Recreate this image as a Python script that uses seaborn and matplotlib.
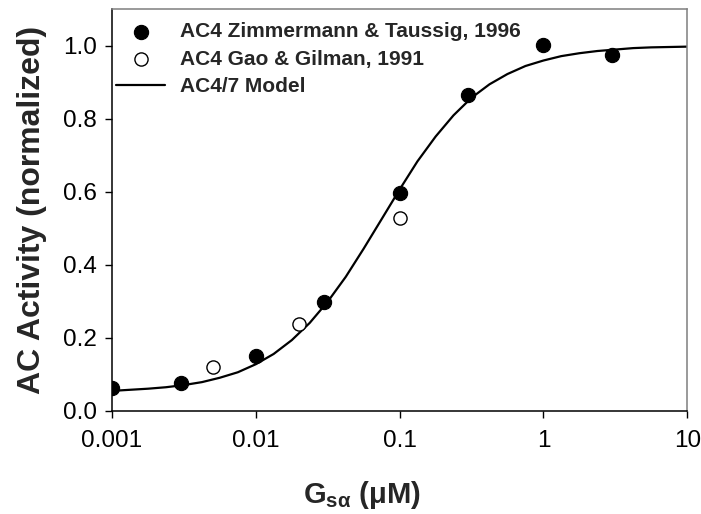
import matplotlib
matplotlib.use("Agg")
import matplotlib.pyplot as plt
import seaborn as sns
import pandas as pd

# Measured AC4 activity (normalized) versus Gs-alpha concentration (uM)
zt_conc = [0.001, 0.003, 0.01, 0.03, 0.1, 0.3, 1.0, 3.0]
zt_activity = [0.064, 0.077, 0.151, 0.299, 0.596, 0.865, 1.002, 0.975]

gg_conc = [0.005, 0.02, 0.1]
gg_activity = [0.121, 0.238, 0.527]

# AC4/7 model curve, sampled every eighth of a decade
model_conc = [0.001, 0.00133, 0.00178, 0.00237, 0.00316, 0.00422, 0.00562, 0.0075,
              0.01, 0.0133, 0.0178, 0.0237, 0.0316, 0.0422, 0.0562, 0.075,
              0.1, 0.133, 0.178, 0.237, 0.316, 0.422, 0.562, 0.75,
              1.0, 1.33, 1.78, 2.37, 3.16, 4.22, 5.62, 7.5, 10.0]
model_activity = [0.055, 0.058, 0.061, 0.065, 0.071, 0.079, 0.091, 0.106,
                  0.128, 0.156, 0.194, 0.241, 0.299, 0.367, 0.444, 0.525,
                  0.606, 0.683, 0.751, 0.809, 0.857, 0.894, 0.922, 0.944,
                  0.959, 0.971, 0.979, 0.985, 0.989, 0.993, 0.995, 0.996, 0.997]

series_labels = ["AC4 Zimmermann & Taussig, 1996",
                 "AC4 Gao & Gilman, 1991",
                 "AC4/7 Model"]
x_ticks = [0.001, 0.01, 0.1, 1, 10]
x_tick_labels = ["0.001", "0.01", "0.1", "1", "10"]
y_ticks = [0.0, 0.2, 0.4, 0.6, 0.8, 1.0]

zt = pd.DataFrame({"conc": zt_conc, "activity": zt_activity})
gg = pd.DataFrame({"conc": gg_conc, "activity": gg_activity})
model = pd.DataFrame({"conc": model_conc, "activity": model_activity})

sns.set_style("ticks")
plt.rcParams["font.family"] = ["Liberation Sans", "DejaVu Sans"]
plt.rcParams["mathtext.fontset"] = "custom"
plt.rcParams["mathtext.rm"] = "Liberation Sans"
plt.rcParams["mathtext.bf"] = "Liberation Sans:bold"
plt.rcParams["mathtext.it"] = "Liberation Sans:italic"

fig = plt.figure(figsize=(7.01, 5.14), dpi=100)
ax = fig.add_axes([0.1598, 0.2004, 0.8205, 0.7821])

sns.scatterplot(data=zt, x="conc", y="activity", ax=ax, s=105, color="black",
                edgecolor="black", linewidth=0.8, label=series_labels[0], zorder=3)
sns.scatterplot(data=gg, x="conc", y="activity", ax=ax, s=90, facecolor="white",
                edgecolor="black", linewidth=1.0, label=series_labels[1], zorder=3)
sns.lineplot(data=model, x="conc", y="activity", ax=ax, color="black",
             linewidth=1.6, label=series_labels[2], zorder=2)

ax.set_xscale("log")
ax.set_xlim(0.001, 10)
ax.set_ylim(0.0, 1.1)
ax.set_xticks(x_ticks)
ax.set_xticklabels(x_tick_labels)
ax.set_yticks(y_ticks)
ax.set_yticklabels([f"{v:.1f}" for v in y_ticks])
ax.minorticks_off()
ax.tick_params(axis="both", direction="out", length=5, width=1.0,
               labelsize=17.5, colors="black")
ax.tick_params(axis="x", pad=9)
ax.tick_params(axis="y", pad=6)

for side in ("left", "bottom"):
    ax.spines[side].set_color("black")
    ax.spines[side].set_linewidth(1.1)
for side in ("top", "right"):
    ax.spines[side].set_visible(True)
    ax.spines[side].set_color("#7f7f7f")
    ax.spines[side].set_linewidth(1.1)

ax.set_ylabel("AC Activity (normalized)", fontsize=23, fontweight="bold")
ax.yaxis.set_label_coords(-0.113, 0.5)
ax.set_xlabel(r"$\mathbf{G}_{\mathbf{s\alpha}}$ $\mathbf{(\mu M)}$", fontsize=21)
ax.xaxis.set_label_coords(0.435, -0.17)

handles, labels = ax.get_legend_handles_labels()
ax.legend(handles, labels, loc="upper left", bbox_to_anchor=(0.0, 1 - 0.0226),
          frameon=False, prop={"weight": "bold", "size": 15}, handlelength=2.35,
          handletextpad=0.7, labelspacing=0.4, borderaxespad=0.0,
          borderpad=0.2)

fig.savefig("out.png", dpi=100)
